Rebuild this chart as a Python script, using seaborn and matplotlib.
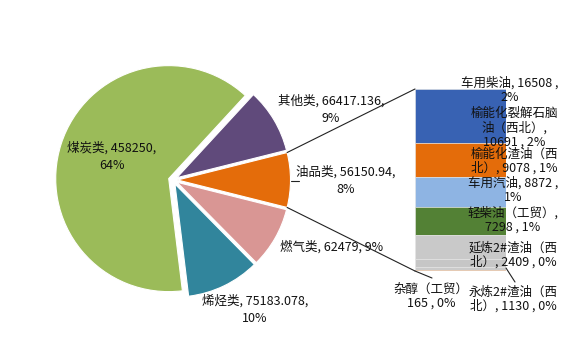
import matplotlib
matplotlib.use("Agg")
import matplotlib.pyplot as plt
import seaborn as sns
import numpy as np

# ---------------- data ----------------
pie_names = ["油品类", "其他类", "煤炭类", "烯烃类", "燃气类"]
pie_values = [56150.94, 66417.136, 458250, 75183.078, 62479]
pie_labels = ["油品类, 56150.94,\n8%", "其他类, 66417.136,\n9%", "煤炭类, 458250,\n64%",
              "烯烃类, 75183.078,\n10%", "燃气类, 62479, 9%"]

bar_names = ["车用柴油", "榆能化裂解石脑油（西北）", "榆能化渣油（西北）", "车用汽油",
             "轻柴油（工贸）", "延炼2#渣油（西北）", "永炼2#渣油（西北）", "杂醇（工贸）"]
bar_values = [16508, 10691, 9078, 8872, 7298, 2409, 1130, 165]
bar_labels = ["车用柴油, 16508 ,\n2%", "榆能化裂解石脑\n油（西北）,\n10691 , 2%",
              "榆能化渣油（西\n北）, 9078 , 1%", "车用汽油, 8872 ,\n1%",
              "轻柴油（工贸）,\n7298 , 1%", "延炼2#渣油（西\n北）, 2409 , 0%",
              "永炼2#渣油（西\n北）, 1130 , 0%", "杂醇（工贸）\n165 , 0%"]

# ---------------- style ----------------
sns.set_theme(style="white")
plt.rcParams["font.family"] = ["Noto Sans CJK SC", "DejaVu Sans"]

pie_colors = ["#E46C0A", "#604A7B", "#9BBB59", "#31859C", "#D99694"]
bar_colors = ["#3862B3", "#E46C0A", "#8EB4E3", "#538135", "#C9C9C9", "#C6C6C6", "#CACACA", "#E46C0A"]

W, H = 568, 363
fig = plt.figure(figsize=(W / 100, H / 100), dpi=100)

def Y(y):
    return H - y

# ---------------- bar of pie (drawn below overlay) ----------------
bx0, bx1, by_top, by_bot = 415, 506, 89, 271
bax = fig.add_axes([bx0 / W, Y(by_bot) / H, (bx1 - bx0) / W, (by_bot - by_top) / H])
bax.set_zorder(0)
bottoms = np.cumsum([0] + bar_values[::-1])[:-1][::-1]
for v, b, c in zip(bar_values, bottoms, bar_colors):
    bax.bar(0, v, bottom=b, width=1, color=c, edgecolor="#e6e6e6", linewidth=0.4)
bax.set_xlim(-0.5, 0.5)
bax.set_ylim(0, sum(bar_values))
bax.axis("off")

# ---------------- pie + overlay ----------------
ax = fig.add_axes([0, 0, 1, 1])
ax.set_zorder(1)
ax.patch.set_alpha(0)

total = sum(pie_values)
start = -0.5 * pie_values[0] / total * 360
wedges, _ = ax.pie(pie_values, colors=pie_colors, startangle=start, counterclock=True,
                   center=(173, Y(180)), radius=113, explode=[4.5] * len(pie_values),
                   wedgeprops=dict(edgecolor="white", linewidth=0.8))
ax.set_xlim(0, W)
ax.set_ylim(0, H)
ax.set_aspect("auto")
ax.axis("off")

# connector lines from oil wedge to bar
w = wedges[0]
cx, cy = w.center
r = w.r
p1 = (cx + r * np.cos(np.radians(w.theta2)), cy + r * np.sin(np.radians(w.theta2)))
p2 = (cx + r * np.cos(np.radians(w.theta1)), cy + r * np.sin(np.radians(w.theta1)))
lk = dict(color="#222222", lw=0.8)
ax.plot([p1[0], bx0], [p1[1], Y(by_top)], **lk)
ax.plot([p2[0], bx0], [p2[1], Y(by_bot)], **lk)
# leaders
ax.plot([bx0, 432], [Y(by_bot), Y(278)], **lk)
ax.plot([bx1, 515], [Y(268), Y(282)], **lk)
ax.plot([291, 299], [Y(181), Y(181)], **lk)

fs = 9
tk = dict(ha="center", va="center", fontsize=fs, color="#111111", zorder=5)
pie_pos = [(346, 181), (331, 110), (112, 157), (255, 310), (332, 247)]
for (x, y), t in zip(pie_pos, pie_labels):
    ax.text(x, Y(y), t, linespacing=1.45, **tk)

bar_pos = [(510, 90), (514, 128), (514, 161), (513, 190), (513, 220), (513, 255), (513, 299), (431, 296)]
for (x, y), t in zip(bar_pos, bar_labels):
    ax.text(x, Y(y), t, linespacing=1.1, **tk)

fig.savefig("out.png", dpi=100)
